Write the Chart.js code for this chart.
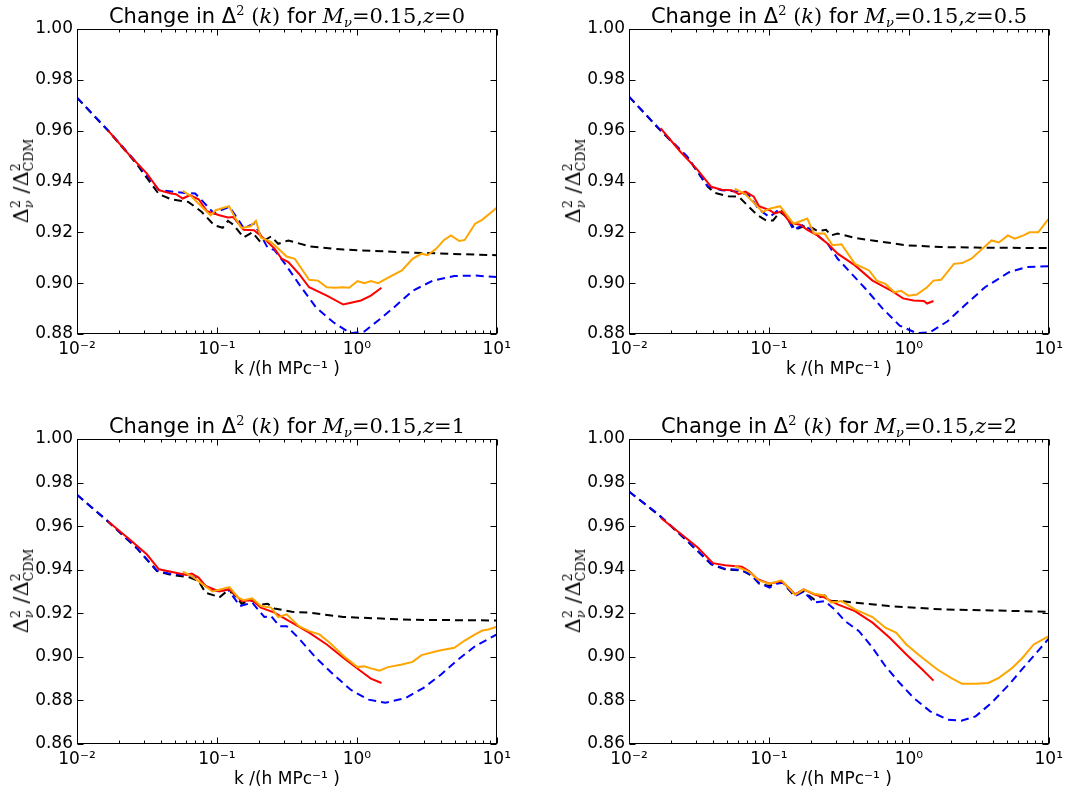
<!DOCTYPE html>
<html>
<head>
<meta charset="utf-8">
<script src="https://cdn.jsdelivr.net/npm/chart.js@4.4.0/dist/chart.umd.min.js"></script>
<style>
    html, body { margin: 0; padding: 0; background: #fff; overflow: hidden; }
    body { width: 1068px; height: 796px; position: relative; }
    .panel { position: absolute; width: 516px; height: 386px; }
    .panel canvas { position: absolute; left: 0; top: 0; }
    .title {
        position: absolute; left: 77px; top: 4px; width: 420px; height: 24px;
        text-align: center; line-height: 24px; white-space: nowrap;
        font-family: "DejaVu Sans"; font-size: 21px; color: #000;
    }
    .m { font-family: "DejaVu Serif"; }
    .ylab {
        position: absolute; left: 22px; top: 181px; white-space: nowrap;
        font-family: "DejaVu Serif"; font-size: 21px; color: #000;
        transform: translate(-50%, -50%) rotate(-90deg);
    }
    .sup { font-size: 0.62em; position: relative; top: -0.6em; }
    .sub { font-size: 0.62em; position: relative; top: 0.3em; }
    .ss { display: inline-flex; flex-direction: column; font-size: 0.6em; line-height: 1.0; vertical-align: middle; }
</style>
</head>
<body>
<script>
// tick labels of the log k axis
const kTicks = [0.01, 0.1, 1, 10];
const kTickLabels = ['10⁻²', '10⁻¹', '10⁰', '10¹'];

// z = 0
const z0BlackK = [0.01, 0.0169, 0.0266, 0.0385, 0.047, 0.0624, 0.078, 0.0955, 0.110, 0.120, 0.131, 0.155, 0.179, 0.206, 0.244, 0.274, 0.324, 0.456, 0.805, 2.5, 10];
const z0BlackV = [0.973, 0.9596, 0.947, 0.935, 0.933, 0.932, 0.928, 0.9228, 0.9218, 0.9245, 0.923, 0.918, 0.920, 0.916, 0.9184, 0.9155, 0.9168, 0.9145, 0.9132, 0.912, 0.911];
const z0BlueK = [0.01, 0.0169, 0.0266, 0.0385, 0.059, 0.0699, 0.083, 0.0955, 0.11, 0.123, 0.138, 0.155, 0.184, 0.206, 0.23, 0.258, 0.307, 0.385, 0.51, 0.68, 0.9, 1.13, 1.42, 1.89, 2.5, 3.5, 4.97, 7, 10];
const z0BlueV = [0.973, 0.9598, 0.9475, 0.9366, 0.9355, 0.9353, 0.931, 0.9274, 0.929, 0.930, 0.926, 0.9217, 0.9234, 0.9188, 0.914, 0.913, 0.9076, 0.8997, 0.8905, 0.8846, 0.8803, 0.881, 0.8853, 0.891, 0.897, 0.901, 0.9028, 0.903, 0.9024];
const z0RedK = [0.0167, 0.0237, 0.0315, 0.0385, 0.047, 0.051, 0.057, 0.064, 0.074, 0.085, 0.104, 0.12, 0.131, 0.155, 0.184, 0.218, 0.258, 0.29, 0.324, 0.385, 0.456, 0.61, 0.8, 1.07, 1.26, 1.5];
const z0RedV = [0.960, 0.9504, 0.9432, 0.9366, 0.9353, 0.935, 0.9333, 0.9346, 0.933, 0.9283, 0.9267, 0.9258, 0.926, 0.921, 0.9208, 0.9175, 0.9136, 0.9096, 0.9083, 0.9037, 0.8984, 0.8951, 0.8916, 0.8932, 0.8951, 0.8982];
const z0OrangeK = [0.057, 0.066, 0.078, 0.09, 0.098, 0.122, 0.134, 0.15, 0.174, 0.19, 0.206, 0.244, 0.274, 0.315, 0.36, 0.456, 0.527, 0.61, 0.70, 0.8, 0.88, 1.01, 1.13, 1.26, 1.42, 1.78, 2.1, 2.5, 2.9, 3.2, 3.7, 4.2, 4.7, 5.4, 5.9, 7, 7.9, 10];
const z0OrangeV = [0.9363, 0.934, 0.930, 0.9267, 0.9287, 0.9303, 0.926, 0.9217, 0.9224, 0.9245, 0.918, 0.9162, 0.9136, 0.9105, 0.9096, 0.9013, 0.901, 0.8984, 0.8982, 0.8984, 0.8982, 0.9008, 0.900, 0.9008, 0.900, 0.903, 0.905, 0.9096, 0.9116, 0.911, 0.9136, 0.917, 0.9188, 0.9166, 0.917, 0.9234, 0.925, 0.9297];

// z = 0.5
const z05BlackK = [0.01, 0.0166, 0.026, 0.0366, 0.041, 0.0513, 0.061, 0.072, 0.083, 0.0955, 0.107, 0.12, 0.134, 0.154, 0.177, 0.2, 0.222, 0.256, 0.278, 0.31, 0.412, 0.55, 0.96, 1.7, 3.0, 10];
const z05BlackV = [0.9734, 0.9603, 0.9497, 0.9379, 0.9355, 0.9342, 0.934, 0.930, 0.9267, 0.9247, 0.9247, 0.928, 0.926, 0.921, 0.9224, 0.922, 0.9205, 0.921, 0.9188, 0.9195, 0.9178, 0.9168, 0.9149, 0.9142, 0.914, 0.9138];
const z05BlueK = [0.01, 0.0166, 0.026, 0.0366, 0.046, 0.061, 0.072, 0.085, 0.101, 0.12, 0.134, 0.15, 0.177, 0.21, 0.263, 0.31, 0.39, 0.49, 0.65, 0.86, 1.14, 1.42, 1.89, 2.5, 3.5, 5.2, 6.9, 10];
const z05BlueV = [0.9734, 0.9605, 0.9499, 0.9381, 0.9366, 0.936, 0.9346, 0.929, 0.926, 0.9293, 0.926, 0.921, 0.923, 0.920, 0.9155, 0.9096, 0.9037, 0.8978, 0.890, 0.8833, 0.8803, 0.8807, 0.885, 0.8912, 0.8984, 0.9043, 0.9063, 0.9067];
const z05RedK = [0.0168, 0.0233, 0.031, 0.0387, 0.046, 0.054, 0.061, 0.068, 0.078, 0.085, 0.101, 0.11, 0.123, 0.142, 0.167, 0.188, 0.222, 0.263, 0.31, 0.412, 0.55, 0.73, 0.91, 1.08, 1.28, 1.35, 1.5];
const z05RedV = [0.961, 0.9517, 0.9445, 0.9379, 0.9368, 0.9366, 0.935, 0.936, 0.934, 0.9303, 0.9287, 0.9274, 0.9282, 0.9237, 0.923, 0.921, 0.9188, 0.9155, 0.9116, 0.907, 0.901, 0.8974, 0.894, 0.8932, 0.893, 0.892, 0.893];
const z05OrangeK = [0.057, 0.068, 0.081, 0.090, 0.101, 0.12, 0.15, 0.188, 0.21, 0.25, 0.285, 0.33, 0.412, 0.52, 0.59, 0.68, 0.79, 0.88, 0.99, 1.14, 1.35, 1.5, 1.7, 2.1, 2.4, 2.8, 3.3, 3.9, 4.4, 5.1, 5.7, 6.6, 7.3, 8.4, 10];
const z05OrangeV = [0.9372, 0.935, 0.9307, 0.928, 0.9293, 0.9303, 0.9234, 0.9254, 0.9195, 0.9195, 0.9149, 0.9153, 0.9076, 0.905, 0.901, 0.8997, 0.8964, 0.897, 0.8951, 0.8955, 0.8984, 0.901, 0.9013, 0.9076, 0.9079, 0.9096, 0.9132, 0.9168, 0.916, 0.9188, 0.9175, 0.9188, 0.920, 0.920, 0.9254];

// z = 1
const z1BlackK = [0.01, 0.0169, 0.0266, 0.0373, 0.047, 0.062, 0.074, 0.083, 0.098, 0.104, 0.117, 0.13, 0.15, 0.174, 0.206, 0.23, 0.258, 0.343, 0.456, 0.8, 2.5, 10];
const z1BlackV = [0.9744, 0.9617, 0.950, 0.9394, 0.9376, 0.9367, 0.9348, 0.9294, 0.928, 0.9272, 0.930, 0.9294, 0.9244, 0.926, 0.924, 0.9244, 0.9222, 0.9207, 0.9203, 0.9183, 0.917, 0.9167];
const z1BlueK = [0.01, 0.0169, 0.0266, 0.0373, 0.047, 0.062, 0.074, 0.088, 0.104, 0.12, 0.146, 0.179, 0.218, 0.244, 0.28, 0.315, 0.385, 0.51, 0.68, 0.9, 1.2, 1.6, 2.25, 3.0, 4.0, 5.3, 7.0, 10];
const z1BlueV = [0.9744, 0.9619, 0.9502, 0.9396, 0.938, 0.9376, 0.9356, 0.931, 0.930, 0.931, 0.9233, 0.9249, 0.9183, 0.9187, 0.9141, 0.9141, 0.9085, 0.8996, 0.8919, 0.885, 0.8804, 0.8789, 0.8812, 0.8858, 0.8919, 0.8988, 0.9049, 0.9103];
const z1RedK = [0.0167, 0.0237, 0.0315, 0.0385, 0.0497, 0.0606, 0.066, 0.074, 0.083, 0.104, 0.123, 0.15, 0.179, 0.206, 0.258, 0.343, 0.456, 0.61, 0.8, 1.07, 1.26, 1.5];
const z1RedV = [0.9621, 0.954, 0.9471, 0.9402, 0.9387, 0.9376, 0.9382, 0.9364, 0.9325, 0.930, 0.931, 0.9256, 0.926, 0.9226, 0.9203, 0.9157, 0.9111, 0.9057, 0.8996, 0.8934, 0.890, 0.888];
const z1OrangeK = [0.057, 0.066, 0.078, 0.093, 0.107, 0.123, 0.142, 0.155, 0.179, 0.206, 0.244, 0.274, 0.315, 0.385, 0.456, 0.54, 0.64, 0.8, 1.01, 1.13, 1.26, 1.45, 1.67, 2.1, 2.5, 2.9, 3.9, 4.97, 5.9, 7, 7.9, 8.7, 10];
const z1OrangeV = [0.9391, 0.9371, 0.9336, 0.930, 0.931, 0.932, 0.9272, 0.926, 0.9269, 0.9233, 0.9226, 0.9183, 0.9195, 0.9141, 0.9118, 0.9103, 0.9065, 0.9005, 0.8953, 0.8957, 0.8947, 0.8937, 0.8953, 0.8965, 0.8977, 0.9008, 0.9029, 0.9042, 0.9075, 0.9103, 0.9121, 0.9126, 0.9138];

// z = 2
const z2BlackK = [0.01, 0.0166, 0.026, 0.0387, 0.0485, 0.064, 0.076, 0.085, 0.101, 0.113, 0.126, 0.15, 0.177, 0.21, 0.25, 0.278, 0.33, 0.41, 0.72, 1.7, 3.9, 10];
const z2BlackV = [0.9759, 0.9647, 0.9532, 0.9425, 0.9402, 0.9397, 0.9371, 0.9336, 0.9325, 0.934, 0.934, 0.9284, 0.930, 0.9264, 0.9282, 0.9256, 0.9256, 0.9249, 0.9233, 0.9218, 0.9213, 0.9207];
const z2BlueK = [0.01, 0.0166, 0.026, 0.0387, 0.0485, 0.064, 0.076, 0.085, 0.101, 0.113, 0.126, 0.154, 0.177, 0.21, 0.25, 0.295, 0.35, 0.44, 0.55, 0.68, 0.86, 1.08, 1.42, 1.89, 2.37, 3.0, 3.9, 5.2, 6.9, 10];
const z2BlueV = [0.9759, 0.9649, 0.9534, 0.9427, 0.9404, 0.9399, 0.9373, 0.9338, 0.9318, 0.9336, 0.934, 0.9279, 0.930, 0.9249, 0.9256, 0.9218, 0.9164, 0.9118, 0.9042, 0.8957, 0.888, 0.8812, 0.875, 0.8712, 0.8707, 0.8727, 0.8789, 0.8873, 0.8965, 0.9084];
const z2RedK = [0.0169, 0.0233, 0.031, 0.0398, 0.0485, 0.064, 0.072, 0.083, 0.101, 0.123, 0.142, 0.154, 0.177, 0.21, 0.25, 0.31, 0.412, 0.55, 0.73, 0.96, 1.21, 1.5];
const z2RedV = [0.9637, 0.9566, 0.9502, 0.943, 0.942, 0.9414, 0.9394, 0.9356, 0.9336, 0.9348, 0.931, 0.9287, 0.931, 0.9287, 0.9272, 0.9241, 0.921, 0.9157, 0.9088, 0.9011, 0.895, 0.8891];
const z2OrangeK = [0.057, 0.072, 0.085, 0.101, 0.123, 0.154, 0.177, 0.21, 0.25, 0.278, 0.33, 0.412, 0.55, 0.68, 0.81, 0.96, 1.21, 1.6, 2.0, 2.4, 3.0, 3.7, 4.4, 5.5, 6.5, 7.8, 10];
const z2OrangeV = [0.9417, 0.9391, 0.9351, 0.9336, 0.9351, 0.9284, 0.931, 0.929, 0.9282, 0.9249, 0.9256, 0.9218, 0.9183, 0.9134, 0.9111, 0.9057, 0.9003, 0.8942, 0.8904, 0.8876, 0.8876, 0.888, 0.8904, 0.895, 0.8996, 0.9057, 0.9095];

const panels = [
    { z: '0',   left: 0,   top: 0,   yMin: 0.88, black: [z0BlackK, z0BlackV],   blue: [z0BlueK, z0BlueV],   red: [z0RedK, z0RedV],   orange: [z0OrangeK, z0OrangeV] },
    { z: '0.5', left: 552, top: 0,   yMin: 0.88, black: [z05BlackK, z05BlackV], blue: [z05BlueK, z05BlueV], red: [z05RedK, z05RedV], orange: [z05OrangeK, z05OrangeV] },
    { z: '1',   left: 0,   top: 410, yMin: 0.86, black: [z1BlackK, z1BlackV],   blue: [z1BlueK, z1BlueV],   red: [z1RedK, z1RedV],   orange: [z1OrangeK, z1OrangeV] },
    { z: '2',   left: 552, top: 410, yMin: 0.86, black: [z2BlackK, z2BlackV],   blue: [z2BlueK, z2BlueV],   red: [z2RedK, z2RedV],   orange: [z2OrangeK, z2OrangeV] }
];

const tickFont = { family: 'DejaVu Sans', size: 17 };

// matplotlib-style frame with inward ticks on all four sides
const frameTicks = {
    id: 'frameTicks',
    afterDatasetsDraw(chart) {
        const { ctx, chartArea: a, scales: { x, y } } = chart;
        const L = Math.round(a.left) + 0.5, R = Math.round(a.right) - 0.5;
        const T = Math.round(a.top) + 0.5, B = Math.round(a.bottom) - 0.5;
        ctx.save();
        ctx.strokeStyle = '#000';
        ctx.lineWidth = 1;
        ctx.beginPath();
        const xTick = (v, len) => {
            const px = Math.round(x.getPixelForValue(v)) + 0.5;
            ctx.moveTo(px, B); ctx.lineTo(px, B - len);
            ctx.moveTo(px, T); ctx.lineTo(px, T + len);
        };
        kTicks.forEach(v => xTick(v, 6));
        kTicks.slice(0, 3).forEach(d => {
            for (let m = 2; m <= 9; m++) xTick(d * m, 3);
        });
        y.ticks.forEach(t => {
            const py = Math.round(y.getPixelForValue(t.value)) + 0.5;
            ctx.moveTo(L, py); ctx.lineTo(L + 6, py);
            ctx.moveTo(R, py); ctx.lineTo(R - 6, py);
        });
        ctx.stroke();
        ctx.strokeRect(L, T, R - L, B - T);
        ctx.restore();
    }
};

function toPoints(pair) {
    return pair[0].map((k, i) => ({ x: k, y: pair[1][i] }));
}

function lineSet(pair, color, dashed, order) {
    return {
        data: toPoints(pair),
        borderColor: color,
        borderWidth: 2,
        borderDash: dashed ? [8, 5] : [],
        pointRadius: 0,
        tension: 0,
        fill: false,
        order: order
    };
}

function buildPanel(p) {
    const box = document.createElement('div');
    box.className = 'panel';
    box.style.left = p.left + 'px';
    box.style.top = p.top + 'px';
    box.innerHTML =
        '<canvas></canvas>' +
        '<div class="title">Change in Δ<span class="sup m">2</span> <span class="m">(<i>k</i>)</span> for ' +
        '<span class="m"><i>M</i><span class="sub"><i>ν</i></span>=0.15,<i>z</i>=' + p.z + '</span></div>' +
        '<div class="ylab">Δ<span class="ss"><span>2</span><i>ν</i></span> /Δ<span class="ss"><span>2</span><span>CDM</span></span></div>';
    document.body.appendChild(box);

    const canvas = box.querySelector('canvas');
    canvas.width = 516;
    canvas.height = 386;

    new Chart(canvas.getContext('2d'), {
        type: 'line',
        data: {
            datasets: [
                lineSet(p.black, '#000000', true, 3),
                lineSet(p.blue, '#0000ff', true, 2),
                lineSet(p.red, '#ff0000', false, 1),
                lineSet(p.orange, '#ffa500', false, 0)
            ]
        },
        options: {
            responsive: false,
            animation: false,
            devicePixelRatio: 1,
            layout: { padding: { top: 29, right: 19, bottom: 0, left: 0 } },
            plugins: { legend: { display: false }, tooltip: { enabled: false }, title: { display: false } },
            scales: {
                x: {
                    type: 'logarithmic',
                    min: 0.01,
                    max: 10,
                    afterBuildTicks: s => { s.ticks = kTicks.map(v => ({ value: v })); },
                    afterFit: s => { s.height = 52; },
                    grid: { display: false, drawTicks: false },
                    border: { display: false },
                    ticks: {
                        autoSkip: false, maxRotation: 0, padding: 5, color: '#000', font: tickFont,
                        callback: (v, i) => kTickLabels[i]
                    },
                    title: {
                        display: true, text: 'k /(h MPc⁻¹ )', color: '#000', font: tickFont,
                        padding: { top: 0, bottom: 6 }
                    }
                },
                y: {
                    min: p.yMin,
                    max: 1.0,
                    afterFit: s => { s.width = 77; },
                    grid: { display: false, drawTicks: false },
                    border: { display: false },
                    ticks: {
                        stepSize: 0.02, padding: 4, color: '#000', font: tickFont,
                        callback: v => v.toFixed(2)
                    }
                }
            }
        },
        plugins: [frameTicks]
    });
}

panels.forEach(buildPanel);
</script>
</body>
</html>
